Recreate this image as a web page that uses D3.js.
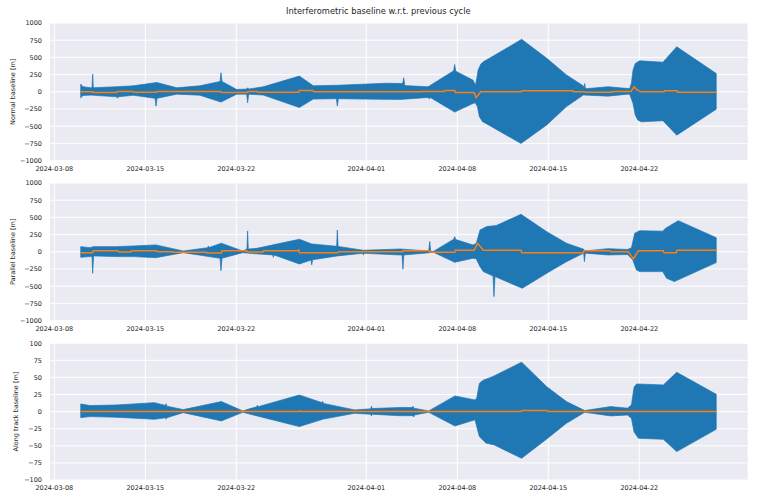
<!DOCTYPE html>
<html><head><meta charset="utf-8">
<script src="https://cdn.jsdelivr.net/npm/d3@7"></script>
<style>body{margin:0;background:#fff} text{font-family:"DejaVu Sans",sans-serif;fill:#262626}</style>
</head><body><svg id="c" width="758" height="502"></svg>
<script>
// time values: days elapsed since epoch
const epoch = "2024-03-08T00:00:00Z";
const xTickLabels = ["2024-03-08","2024-03-15","2024-03-22","2024-04-01","2024-04-08","2024-04-15","2024-04-22"];
const yTicksBaseline = [-1000,-750,-500,-250,0,250,500,750,1000];
const yTicksAlong = [-100,-75,-50,-25,0,25,50,75,100];
const titleText = "Interferometric baseline w.r.t. previous cycle";

const normalUpper = [[2.03,111],[2.2,75],[2.8,58],[2.9,60],[2.95,257],[3.0,60],[4.8,73],[6.08,87],[7.88,135],[9.42,58],[11.2,87],[12.75,150],[12.82,276],[12.9,150],[14.03,34],[14.8,40],[14.87,58],[14.95,40],[16.08,73],[18.85,228],[19.92,87],[21.77,95],[23.77,111],[25.5,124],[26.8,120],[26.88,203],[26.96,90],[28.75,73],[30.72,305],[30.8,397],[30.88,300],[32.2,170],[32.4,97],[32.5,194],[32.6,315],[32.8,400],[33.0,435],[35.95,762],[37.88,487],[39.4,245],[40.7,85],[40.75,50],[40.8,121],[40.86,45],[42.6,73],[44.1,48],[44.26,48],[44.39,121],[44.52,315],[44.69,412],[45.03,450],[46.82,430],[47.88,654],[50.92,266]];
const normalLower = [[2.03,-87],[2.2,-55],[2.8,-48],[4.8,-73],[4.86,-92],[4.93,-73],[6.08,-50],[7.75,-95],[7.82,-208],[7.9,-95],[9.42,-34],[11.2,-50],[12.82,-150],[14.03,-34],[14.8,-34],[14.87,-160],[14.95,-34],[16.08,-48],[18.85,-228],[19.92,-106],[21.7,-100],[21.77,-208],[21.85,-100],[23.77,-106],[26.6,-111],[28.75,-82],[28.85,-105],[28.92,-82],[30.8,-295],[32.2,-170],[32.4,-160],[32.55,-218],[32.7,-363],[32.95,-436],[33.3,-470],[35.9,-751],[37.88,-482],[39.4,-215],[40.7,-46],[42.6,-63],[44.1,-34],[44.26,-34],[44.52,-170],[44.69,-340],[44.9,-412],[45.16,-436],[46.82,-420],[47.88,-630],[50.92,-254]];
const normalMean = [[2.03,0],[2.95,0],[3.0,-10],[4.8,-10],[4.85,3],[6.05,3],[6.1,-5],[7.85,-5],[7.9,3],[12.8,3],[12.85,-10],[14.85,-10],[14.9,3],[15.6,3],[15.65,-5],[18.8,-5],[18.85,19],[19.9,19],[19.95,0],[28.2,0],[28.25,3],[30.0,3],[30.05,19],[30.8,19],[30.85,-10],[32.3,-10],[32.45,-82],[32.55,-60],[32.8,0],[35.9,0],[35.95,15],[39.9,15],[39.95,0],[40.8,0],[40.85,-5],[42.9,-5],[42.95,3],[44.35,3],[44.6,73],[44.8,30],[45.1,0],[46.9,0],[46.95,15],[47.9,15],[47.95,-5],[50.92,-5]];

const parallelUpper = [[2.03,75],[2.75,60],[3.0,75],[4.8,75],[6.08,85],[7.82,100],[9.92,12],[11.8,60],[11.85,85],[11.9,62],[12.85,124],[14.49,12],[14.82,40],[14.87,303],[14.92,40],[15.57,50],[18.85,182],[19.8,114],[21.72,80],[21.77,317],[21.83,78],[23.77,22],[26.6,41],[28.8,12],[28.88,150],[28.95,10],[29.15,5],[30.72,182],[30.8,220],[30.88,178],[32.2,100],[32.45,120],[32.5,148],[32.75,317],[33.25,366],[34.0,382],[35.9,545],[37.88,293],[39.4,124],[40.73,37],[40.8,12],[42.6,46],[44.1,34],[44.4,60],[44.65,269],[45.03,307],[46.8,300],[47.0,340],[48.0,452],[50.92,206]];
const parallelLower = [[2.03,-80],[2.75,-70],[2.9,-70],[2.95,-312],[3.02,-70],[3.1,-60],[4.8,-70],[6.08,-70],[7.82,-85],[9.92,-12],[12.75,-94],[12.82,-275],[12.9,-94],[14.49,-12],[15.57,-30],[16.8,-45],[16.85,-80],[16.9,-45],[18.85,-177],[19.75,-120],[19.8,-190],[19.87,-115],[21.77,-60],[23.7,-22],[23.77,-45],[23.84,-22],[26.6,-46],[26.75,-46],[26.82,-254],[26.89,-46],[28.9,-12],[29.15,-5],[30.8,-153],[32.2,-94],[32.45,-100],[32.75,-216],[33.0,-288],[33.75,-350],[33.82,-651],[33.9,-360],[36.0,-530],[37.88,-312],[39.4,-143],[40.72,-20],[40.78,-143],[40.85,-20],[42.6,-46],[44.1,-40],[44.5,-118],[44.78,-264],[45.03,-288],[46.8,-288],[47.1,-384],[47.7,-433],[50.92,-157]];
const parallelMean = [[2.03,-12],[2.95,-12],[3.0,17],[4.9,17],[4.95,-2],[5.9,-2],[5.95,17],[7.85,17],[7.9,0],[9.1,0],[9.15,-7],[11.7,-7],[11.75,-17],[12.85,-17],[12.9,17],[14.8,17],[14.85,-2],[16.05,-2],[16.1,17],[18.75,17],[18.8,27],[18.85,-12],[21.8,-12],[21.85,0],[26.8,0],[26.85,17],[28.85,17],[28.9,-7],[30.8,-7],[30.85,22],[32.3,22],[32.56,124],[33.0,22],[35.9,22],[35.95,-12],[40.7,-12],[40.75,17],[42.75,17],[42.8,0],[44.16,0],[44.54,-104],[44.93,17],[46.85,17],[46.9,-12],[47.85,-12],[47.9,22],[50.92,22]];

const alongUpper = [[2.03,11.2],[2.75,8.8],[4.8,9.7],[7.7,13.1],[8.55,9],[8.6,11.5],[8.65,8],[9.92,2.9],[12.85,14.6],[14.5,1],[15.0,4],[15.58,7],[15.62,9.5],[15.66,7],[18.85,24.3],[20.6,13],[20.65,15],[20.7,12],[23.1,2.5],[24.35,4],[24.4,8],[24.45,4.5],[26.6,6],[27.55,6],[27.6,8],[27.65,5],[28.8,1],[30.82,22.9],[32.36,17],[32.5,20],[32.7,41.4],[33.0,46],[33.7,51],[35.95,72.2],[37.88,36.5],[39.4,14.6],[40.8,1.5],[42.8,7.3],[44.1,5],[44.4,10],[44.6,36],[44.8,40.4],[46.85,39],[47.88,57.5],[50.92,25.3]];
const alongLower = [[2.03,-8.8],[2.75,-7.3],[4.8,-8.3],[7.7,-11.2],[8.55,-9],[8.6,-11],[8.65,-9],[9.92,-1.5],[12.85,-13.6],[14.5,-1],[15.6,-6.3],[18.85,-21.9],[20.7,-11],[23.1,-2.5],[24.35,-3.9],[24.4,-6.5],[24.45,-3.9],[26.6,-6],[27.6,-6],[27.65,-8],[27.7,-5],[28.8,-1],[30.82,-21],[32.36,-12],[32.7,-36.6],[33.2,-46],[33.85,-48.8],[35.95,-68.3],[37.88,-40],[39.4,-17],[40.8,-1],[42.8,-6.3],[44.1,-5],[44.4,-10],[44.6,-30],[44.93,-39],[46.85,-40.5],[47.88,-58.5],[50.92,-25.9]];
const alongMean = [[2.03,0],[18.8,0],[18.85,1],[18.9,0],[35.9,0],[35.95,1.5],[37.9,1.5],[37.95,0],[50.92,0]];

const xDomainDays = [-0.333, 53.333];

const t0 = Date.parse(epoch);
const toDate = d => new Date(t0 + d * 864e5);
const parseDay = d3.utcParse("%Y-%m-%d");

const svg = d3.select("#c");
const left = 50, right = 747.6;
const x = d3.scaleUtc().domain(xDomainDays.map(toDate)).range([left, right]);
const xTicks = xTickLabels.map(parseDay);

const panels = [
  {top:23, h:137.6, dom:[-1000,1000], ticks:yTicksBaseline, label:"Normal baseline [m]", lx:12.5, up:normalUpper, lo:normalLower, mean:normalMean},
  {top:183, h:137.6, dom:[-1000,1000], ticks:yTicksBaseline, label:"Parallel baseline [m]", lx:12.5, up:parallelUpper, lo:parallelLower, mean:parallelMean},
  {top:343.2, h:136.8, dom:[-100,100], ticks:yTicksAlong, label:"Along track baseline [m]", lx:16, up:alongUpper, lo:alongLower, mean:alongMean}
];
const fmt = v => (v < 0 ? "\u2212" + Math.abs(v) : String(v));

panels.forEach((p, i) => {
  const y = d3.scaleLinear().domain(p.dom).range([p.top + p.h, p.top]);
  const g = svg.append("g");
  g.append("rect").attr("x", left).attr("y", p.top).attr("width", right - left).attr("height", p.h).attr("fill", "#EAEAF2");
  const clipId = "clip" + i;
  svg.append("clipPath").attr("id", clipId).append("rect").attr("x", left).attr("y", p.top).attr("width", right - left).attr("height", p.h);
  g.selectAll(".hg").data(p.ticks).join("line").attr("x1", left).attr("x2", right)
    .attr("y1", d => y(d)).attr("y2", d => y(d)).attr("stroke", "#fff").attr("stroke-width", 1);
  g.selectAll(".vg").data(xTicks).join("line").attr("y1", p.top).attr("y2", p.top + p.h)
    .attr("x1", d => x(d)).attr("x2", d => x(d)).attr("stroke", "#fff").attr("stroke-width", 1);
  const line = d3.line().x(d => x(toDate(d[0]))).y(d => y(d[1]));
  const upPath = line(p.up);
  const loPath = line(p.lo.slice().reverse());
  const gc = g.append("g").attr("clip-path", `url(#${clipId})`);
  gc.append("path").attr("d", upPath + "L" + loPath.slice(1) + "Z")
    .attr("fill", "#1f77b4").attr("stroke", "#1f77b4").attr("stroke-width", 0.7).attr("stroke-linejoin", "round");
  gc.append("path").attr("d", line(p.mean)).attr("fill", "none").attr("stroke", "#ff7f0e").attr("stroke-width", 1.5);
  g.selectAll(".yt").data(p.ticks).join("text").attr("x", 42).attr("y", d => y(d) + 2.4)
    .attr("text-anchor", "end").attr("font-size", 6.5).text(fmt);
  g.selectAll(".xt").data(xTicks).join("text").attr("x", d => x(d)).attr("y", p.top + p.h + 10.4)
    .attr("text-anchor", "middle").attr("font-size", 6.5).text((d, j) => xTickLabels[j]);
  g.append("text").attr("transform", `translate(${p.lx},${p.top + p.h / 2}) rotate(-90)`)
    .attr("dy", "0.35em").attr("text-anchor", "middle").attr("font-size", 6.5).text(p.label);
});

svg.append("text").attr("x", 378.3).attr("y", 13.6).attr("text-anchor", "middle").attr("font-size", 8.3).text(titleText);
</script></body></html>
